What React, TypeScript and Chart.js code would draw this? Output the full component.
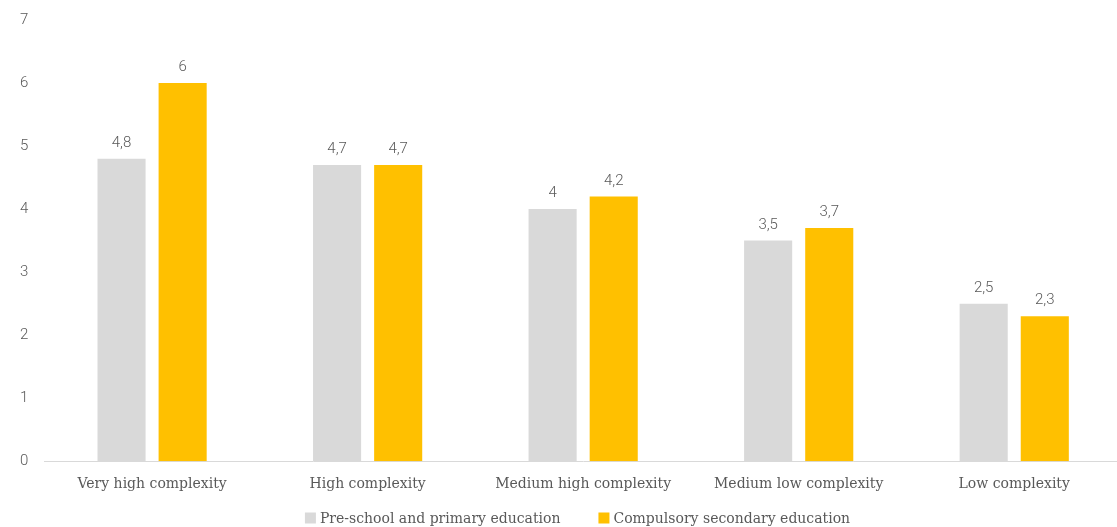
import React, { useEffect, useRef } from "react";
import { Chart, registerables } from "chart.js";

Chart.register(...registerables);

const categories = [
  "Very high complexity",
  "High complexity",
  "Medium high complexity",
  "Medium low complexity",
  "Low complexity",
];
const preSchoolPrimary = [4.8, 4.7, 4.0, 3.5, 2.5];
const compulsorySecondary = [6.0, 4.7, 4.2, 3.7, 2.3];
const seriesNames = ["Pre-school and primary education", "Compulsory secondary education"];
const seriesColors = ["#d9d9d9", "#ffc000"];

const TEXT = "#595959";
const SERIF = "'DejaVu Serif', serif";
const SANS = "Roboto, sans-serif";

const dataLabels = {
  id: "dataLabels",
  afterDatasetsDraw(chart: any) {
    const ctx = chart.ctx;
    ctx.save();
    ctx.font = `300 15px ${SANS}`;
    ctx.fillStyle = TEXT;
    ctx.textAlign = "center";
    ctx.textBaseline = "bottom";
    chart.data.datasets.forEach((ds: any, i: number) => {
      const meta = chart.getDatasetMeta(i);
      meta.data.forEach((bar: any, j: number) => {
        const v = ds.data[j];
        const txt = String(v).replace(".", ",");
        ctx.fillText(txt, bar.x, bar.y - 8);
      });
    });
    ctx.restore();
  },
};

const customLegend = {
  id: "customLegend",
  afterDraw(chart: any) {
    const ctx = chart.ctx;
    ctx.save();
    ctx.font = `14px ${SERIF}`;
    ctx.textBaseline = "middle";
    ctx.textAlign = "left";
    const box = 11;
    const gapBoxText = 4;
    const gapItems = 38;
    const widths = seriesNames.map((n) => box + gapBoxText + ctx.measureText(n).width);
    const total = widths.reduce((a, b) => a + b, 0) + gapItems * (widths.length - 1);
    const cy = chart.height - 9;
    let x = (1117 - total) / 2 + 19;
    seriesNames.forEach((n, i) => {
      ctx.fillStyle = seriesColors[i];
      ctx.fillRect(x, cy - box / 2, box, box);
      ctx.fillStyle = TEXT;
      ctx.fillText(n, x + box + gapBoxText, cy + 1);
      x += widths[i] + gapItems;
    });
    ctx.restore();
  },
};

export default function App() {
  const ref = useRef<HTMLCanvasElement>(null);
  useEffect(() => {
    if (!ref.current) return;
    const chart = new Chart(ref.current, {
      type: "bar",
      data: {
        labels: categories,
        datasets: [
          {
            label: seriesNames[0],
            data: preSchoolPrimary,
            backgroundColor: seriesColors[0],
            categoryPercentage: 0.567,
            barPercentage: 0.787,
          },
          {
            label: seriesNames[1],
            data: compulsorySecondary,
            backgroundColor: seriesColors[1],
            categoryPercentage: 0.567,
            barPercentage: 0.787,
          },
        ],
      },
      options: {
        animation: false,
        responsive: true,
        maintainAspectRatio: false,
        layout: { padding: { top: 20, left: 4, right: 0, bottom: 19 } },
        plugins: {
          legend: { display: false },
          tooltip: { enabled: false },
        },
        scales: {
          x: {
            grid: { display: false, drawTicks: false },
            border: { display: true, color: "#d9d9d9", width: 1 },
            ticks: { color: TEXT, font: { family: SERIF, size: 14 }, padding: 15 },
          },
          y: {
            min: 0,
            max: 7,
            grid: { display: false, drawTicks: false },
            border: { display: false },
            afterFit: (scale: any) => {
              scale.paddingTop = 0;
            },
            ticks: {
              stepSize: 1,
              color: TEXT,
              font: { family: SANS, size: 15, weight: "300" as any },
              padding: 16,
            },
          },
        },
      },
      plugins: [dataLabels, customLegend],
    });
    return () => chart.destroy();
  }, []);
  return (
    <div style={{ position: "fixed", left: 0, top: 0, width: 1117, height: 527, overflow: "hidden" }}>
      <div style={{ position: "relative", width: 1122, height: 527 }}>
        <canvas ref={ref} />
      </div>
    </div>
  );
}
